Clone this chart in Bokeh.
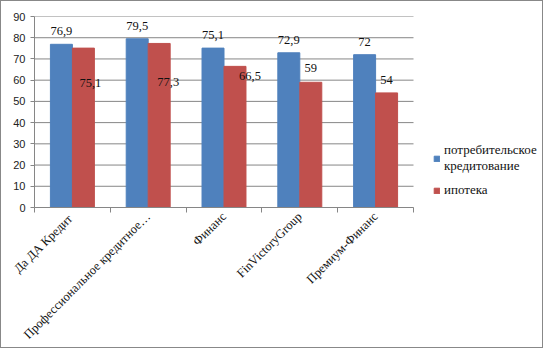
import math
from bokeh.plotting import figure
from bokeh.models import ColumnDataSource, FixedTicker, Legend, LegendItem, Range1d
from bokeh.embed import file_html
from bokeh.resources import INLINE

categories = ["Да ДА  Кредит", "Профессиональное кредитное…", "Финанс", "FinVictoryGroup", "Премиум-Финанс"]
consumer = [76.9, 79.5, 75.1, 72.9, 72]
mortgage = [75.1, 77.3, 66.5, 59, 54]
series_names = ["потребительское\nкредитование", "ипотека"]
y_ticks = [0, 10, 20, 30, 40, 50, 60, 70, 80, 90]

BLUE = "#4F81BD"
RED = "#C0504D"
GRID = "#868686"
SERIF = "Liberation Serif"

def fmt(v):
    return ("%g" % v).replace(".", ",")

n = len(categories)
centers = [i + 0.5 for i in range(n)]
bw = 0.29

W, H = 543, 348
BL, BR = 33, 2
frame_w = W - BL - BR
cat_px = 75.8
x_end = frame_w / cat_px

src_b = ColumnDataSource(dict(x=[c - bw / 2 for c in centers], top=consumer,
                              lab=[fmt(v) for v in consumer]))
src_r = ColumnDataSource(dict(x=[c + bw / 2 for c in centers], top=mortgage,
                              lab=[fmt(v) for v in mortgage],
                              xo=[7, 9, 15, 0, 0], yo=[35, 39, 10, -14, -13]))

p = figure(width=W, height=H, output_backend="svg", toolbar_location=None,
           x_range=Range1d(0, x_end), y_range=Range1d(0, 90),
           min_border_left=BL, min_border_right=BR, min_border_top=15, min_border_bottom=100)
p.styles = {"border": "1px solid #888888"}
p.outline_line_color = None
p.background_fill_color = "white"

# horizontal gridlines limited to the category area
p.segment(x0=[0] * len(y_ticks), x1=[n] * len(y_ticks), y0=y_ticks, y1=y_ticks,
          line_color=GRID, line_width=1)

rb = p.vbar(x="x", top="top", width=bw, bottom=0, color=BLUE, source=src_b)
rr = p.vbar(x="x", top="top", width=bw, bottom=0, color=RED, source=src_r)

p.text(x="x", y="top", text="lab", source=src_b, text_align="center", text_baseline="middle",
       y_offset=-13, text_font="Liberation Sans", text_font_size="12.5px", text_color="#111111")
p.text(x="x", y="top", text="lab", source=src_r, text_align="center", text_baseline="middle",
       x_offset="xo", y_offset="yo", text_font="Liberation Sans", text_font_size="12.5px",
       text_color="#111111")

p.xgrid.visible = False
p.ygrid.visible = False
p.yaxis.ticker = FixedTicker(ticks=y_ticks)
p.yaxis.axis_line_color = GRID
p.yaxis.major_tick_line_color = GRID
p.yaxis.major_tick_out = 4
p.yaxis.major_tick_in = 0
p.yaxis.minor_tick_line_color = None
p.yaxis.major_label_text_font = "Liberation Sans"
p.yaxis.major_label_text_font_size = "11px"
p.yaxis.major_label_text_color = "#222222"
p.yaxis.major_label_standoff = 5

p.xaxis.bounds = (0, n)
p.xaxis.ticker = FixedTicker(ticks=centers, minor_ticks=list(range(n + 1)))
p.xaxis.major_label_overrides = {c: lab for c, lab in zip(centers, categories)}
p.xaxis.axis_line_color = GRID
p.xaxis.major_tick_line_color = None
p.xaxis.minor_tick_line_color = GRID
p.xaxis.minor_tick_out = 5
p.xaxis.minor_tick_in = 0
p.xaxis.major_label_orientation = math.pi / 4
p.xaxis.major_label_text_font = SERIF
p.xaxis.major_label_text_font_size = "12.5px"
p.xaxis.major_label_text_color = "#111111"
p.xaxis.major_label_standoff = 1

legend = Legend(items=[LegendItem(label=series_names[0], renderers=[rb]),
                       LegendItem(label=series_names[1], renderers=[rr])],
                location=(int(n * cat_px) + 20, 9), glyph_width=7, glyph_height=7,
                label_text_font=SERIF, label_text_font_size="13px",
                label_text_color="#111111", label_standoff=4, spacing=8,
                padding=0, margin=0, border_line_color=None, background_fill_alpha=0)
p.add_layout(legend)

open("out.html", "w").write(file_html(p, INLINE))
